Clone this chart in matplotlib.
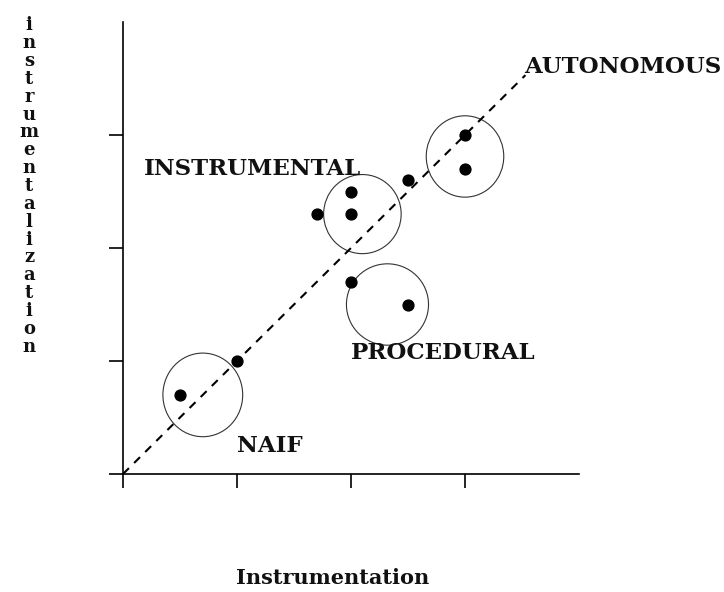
import numpy as np
from matplotlib import pyplot as plt
from matplotlib.patches import Ellipse

# data
pts_x = [0.5, 1.0, 1.7, 2.0, 2.0, 2.0, 2.5, 2.5, 3.0, 3.0]
pts_y = [0.7, 1.0, 2.3, 2.3, 2.5, 1.7, 1.5, 2.6, 3.0, 2.7]

groups = ["NAIF", "INSTRUMENTAL", "PROCEDURAL", "AUTONOMOUS"]
circle_cx = [0.7, 2.1, 2.32, 3.0]
circle_cy = [0.7, 2.3, 1.5, 2.81]
circle_w = [0.70, 0.68, 0.72, 0.68]
circle_h = [0.74, 0.70, 0.72, 0.72]
label_x = [1.0, 0.18, 2.0, 3.52]
label_y = [0.25, 2.7, 1.07, 3.6]

diag_end = 3.53
ticks = [0, 1, 2, 3]

font = "DejaVu Serif"

fig = plt.figure(figsize=(7.24, 5.92), dpi=100)
ax = fig.add_axes([123 / 724, 118 / 592, 456 / 724, 452 / 592])
ax.set_xlim(0, 4)
ax.set_ylim(0, 4)

ax.plot([0, diag_end], [0, diag_end], color="black", linestyle=(0, (4, 3.5)), lw=1.5)
ax.plot(pts_x, pts_y, "o", color="black", markersize=7.8)

for cx, cy, w, h in zip(circle_cx, circle_cy, circle_w, circle_h):
    ax.add_patch(Ellipse((cx, cy), w, h, fill=False, edgecolor="#333333", lw=0.8))

for name, lx, ly in zip(groups, label_x, label_y):
    ax.text(lx, ly, name, fontsize=16.5, family=font, weight="bold", ha="left", va="center",
            color="#111111")

for s in ["top", "right"]:
    ax.spines[s].set_visible(False)
ax.spines["left"].set_linewidth(1.2)
ax.spines["bottom"].set_linewidth(1.2)
ax.set_xticks(ticks)
ax.set_yticks(ticks)
ax.set_xticklabels([])
ax.set_yticklabels([])
ax.tick_params(direction="out", length=10, width=1.2)

ylab = "instrumentalization"
fig.text(29 / 724, 1 - 186 / 592, "\n".join(ylab), fontsize=13, family=font, weight="bold",
         ha="center", va="center", linespacing=0.99, color="#111111")
fig.text(333 / 724, 1 - 578 / 592, "Instrumentation", fontsize=15, family=font, weight="bold",
         ha="center", va="center", color="#111111")

fig.savefig("out.png", dpi=100)
